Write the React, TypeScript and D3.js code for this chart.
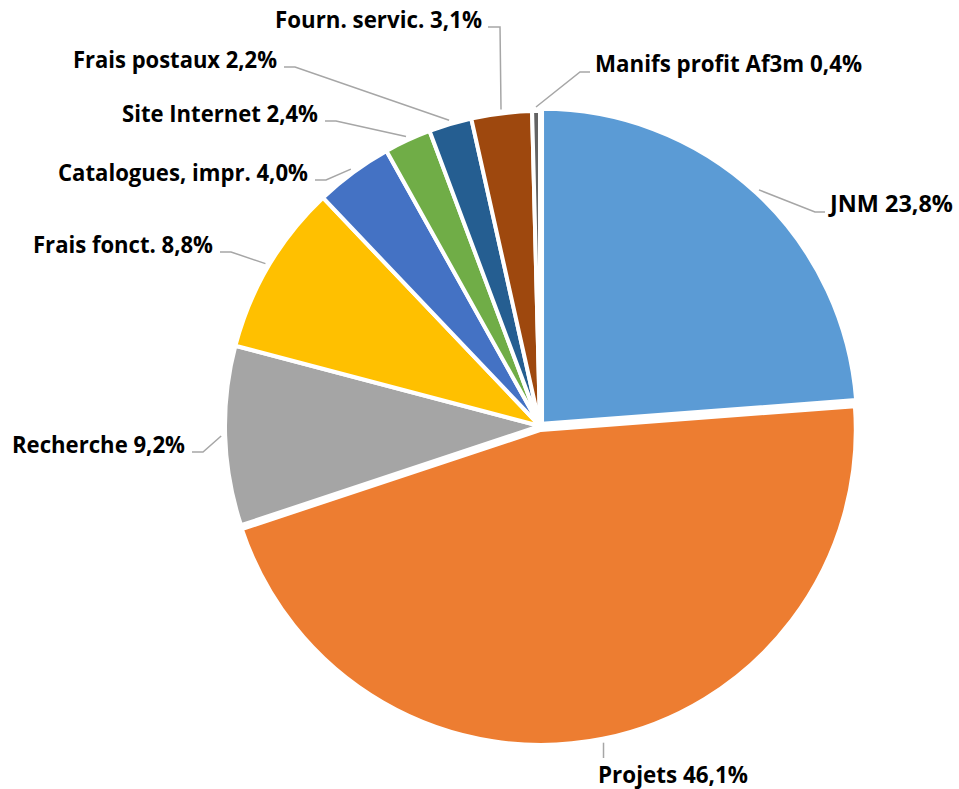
import React from "react";
import * as d3 from "d3";

const categories = [
  "JNM",
  "Projets",
  "Recherche",
  "Frais fonct.",
  "Catalogues, impr.",
  "Site Internet",
  "Frais postaux",
  "Fourn. servic.",
  "Manifs profit Af3m",
];
const values = [23.8, 46.1, 9.2, 8.8, 4.0, 2.4, 2.2, 3.1, 0.4];
const colors = [
  "#5B9BD5",
  "#ED7D31",
  "#A5A5A5",
  "#FFC000",
  "#4472C4",
  "#70AD47",
  "#255E91",
  "#9E480E",
  "#636363",
];

// layout (label placement, not data)
const W = 959;
const H = 789;
const CX = 540;
const CY = 426;
const R = 315;
const explode = [3, 4, 0, 0, 0, 0, 0, 0, 0];
type Lab = { x: number; y: number; anchor: "start" | "end" | "middle"; w: number; kind: "left" | "right" | "up" | "down" };
const labelLayout: Lab[] = [
  { x: 830, y: 212, anchor: "start", w: 123, kind: "right" },
  { x: 673, y: 783, anchor: "middle", w: 150, kind: "down" },
  { x: 185, y: 453, anchor: "end", w: 173, kind: "left" },
  { x: 213, y: 253, anchor: "end", w: 180, kind: "left" },
  { x: 308, y: 181, anchor: "end", w: 250, kind: "left" },
  { x: 318, y: 122, anchor: "end", w: 196, kind: "left" },
  { x: 277, y: 68, anchor: "end", w: 204, kind: "left" },
  { x: 482, y: 28, anchor: "end", w: 207, kind: "up" },
  { x: 595, y: 72, anchor: "start", w: 267, kind: "right" },
];

const fmt = (v: number) => v.toFixed(1).replace(".", ",") + "%";

export default function App() {
  const pie = d3
    .pie<number>()
    .sort(null)
    .value((d) => d)
    .startAngle(0)
    .endAngle(2 * Math.PI);
  const arcs = pie(values);
  const arcGen = d3.arc<d3.PieArcDatum<number>>().innerRadius(0).outerRadius(R);
  const line = d3.line<[number, number]>();

  return (
    <svg
      width={W}
      height={H}
      style={{ position: "absolute", left: 0, top: 0, background: "#fff" }}
      fontFamily="'Open Sans', sans-serif"
    >
      {arcs.map((a, i) => {
        const mid = (a.startAngle + a.endAngle) / 2;
        const dx = explode[i] * Math.sin(mid);
        const dy = -explode[i] * Math.cos(mid);
        return (
          <path
            key={"s" + i}
            d={arcGen(a) || ""}
            transform={`translate(${CX + dx},${CY + dy})`}
            fill={colors[i]}
            stroke="#fff"
            strokeWidth={4}
            strokeLinejoin="round"
          />
        );
      })}
      {arcs.map((a, i) => {
        const mid = (a.startAngle + a.endAngle) / 2;
        const ox = CX + explode[i] * Math.sin(mid);
        const oy = CY - explode[i] * Math.cos(mid);
        const sx = ox + (R + 4) * Math.sin(mid);
        const sy = oy - (R + 4) * Math.cos(mid);
        const L = labelLayout[i];
        let pts: [number, number][] = [];
        if (L.kind === "left") {
          pts = [
            [sx, sy],
            [L.x + 18, L.y - 1],
            [L.x + 7, L.y - 1],
          ];
        } else if (L.kind === "right") {
          pts = [
            [sx, sy],
            [L.x - 15, L.y],
            [L.x - 5, L.y],
          ];
        } else if (L.kind === "up") {
          pts = [
            [sx, sy],
            [sx - 1, L.y - 1],
            [L.x + 6, L.y - 1],
          ];
        } else {
          pts = [
            [sx, sy],
            [sx, L.y - 25],
          ];
        }
        return (
          <path
            key={"l" + i}
            d={line(pts) || ""}
            fill="none"
            stroke="#A6A6A6"
            strokeWidth={1.5}
          />
        );
      })}
      {categories.map((c, i) => {
        const L = labelLayout[i];
        return (
          <text
            key={"t" + i}
            x={L.x}
            y={L.y}
            textAnchor={L.anchor}
            fontSize={23}
            fontWeight="bold"
            fill="#000"
            textLength={L.w}
            lengthAdjust="spacingAndGlyphs"
          >
            {`${c} ${fmt(values[i])}`}
          </text>
        );
      })}
    </svg>
  );
}
